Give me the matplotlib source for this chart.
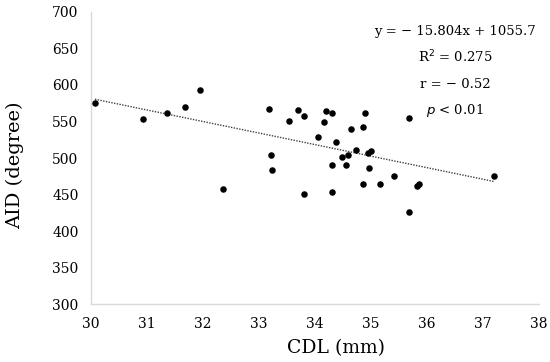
import matplotlib
matplotlib.use('Agg')
import matplotlib.pyplot as plt
import numpy as np

plt.rcParams['font.family'] = ['DejaVu Serif']

# CDL (mm) vs AID (degree)
cdl = [30.07, 30.93, 31.36, 31.68, 31.94, 32.36,
       33.17, 33.70, 33.80, 33.54, 34.19, 34.30, 34.16, 34.90, 34.64, 34.85,
       34.06, 34.375, 33.21, 33.24, 34.74, 34.59, 34.48, 34.95, 35.00, 34.30,
       34.55, 34.97, 35.41, 34.86, 35.16, 33.80, 34.30,
       35.68, 37.20, 35.83, 35.86, 35.68]
aid = [576, 553, 562, 570, 593, 458,
       567, 566, 558, 551, 565, 561, 549, 562, 540, 542,
       529, 522, 504, 484, 511, 504, 501, 507, 510, 491,
       490, 487, 476, 464, 464, 451, 453,
       555, 476, 462, 464, 426]

slope = -15.804
intercept = 1055.7
fit_x = [min(cdl), max(cdl)]

fig = plt.figure(figsize=(5.5, 3.62), dpi=100)
ax = fig.add_axes([0.1655, 0.16, 0.8145, 0.807])

ax.scatter(cdl, aid, s=22, color='black', zorder=3, linewidths=0)
fx = np.array(fit_x)
ax.plot(fx, slope * fx + intercept, linestyle=(0, (1, 1)), color='#404040', linewidth=1.0)

ax.set_xlim(30, 38)
ax.set_ylim(300, 700)
ax.set_xticks(range(30, 39))
ax.set_yticks(range(300, 701, 50))
ax.tick_params(length=0, labelsize=10, pad=9)
for side in ['top', 'right']:
    ax.spines[side].set_visible(False)
for side in ['left', 'bottom']:
    ax.spines[side].set_color('#d9d9d9')
    ax.spines[side].set_linewidth(1.0)

ax.set_xlabel('CDL (mm)', fontsize=13.5, va='center')
ax.set_ylabel('AID (degree)', fontsize=14, va='center')
ax.xaxis.set_label_coords(0.547, -0.151)
ax.yaxis.set_label_coords(-0.17, 0.476)

tx = 455 / 550
fig.text(tx, 1 - 31 / 362, 'y = \u2212 15.804x + 1055.7', ha='center', va='center', fontsize=9.5)
fig.text(tx, 1 - 57 / 362, 'R$^2$ = 0.275', ha='center', va='center', fontsize=9.5)
fig.text(tx, 1 - 84 / 362, 'r = \u2212 0.52', ha='center', va='center', fontsize=9.5)
fig.text(tx, 1 - 111 / 362, '$p$ < 0.01', ha='center', va='center', fontsize=9.5)

fig.savefig('out.png', dpi=100)
